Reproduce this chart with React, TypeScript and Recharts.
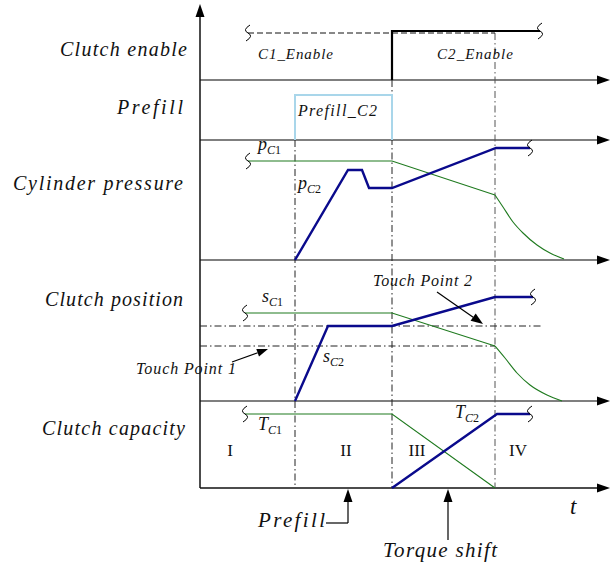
import { ComposedChart, Line, XAxis, YAxis, ReferenceLine, ReferenceDot } from "recharts";

// time axis: t = 0 at the vertical axis, phase boundaries below
const PHASE_T = [0.95, 1.92, 2.95];
const PHASE_NAMES = ["I", "II", "III", "IV"];
const PHASE_LABEL_T = [0.3, 1.46, 2.17, 3.18];

const LANE_NAMES = ["Clutch enable", "Prefill", "Cylinder pressure", "Clutch position", "Clutch capacity"];

// clutch enable
const C1_ENABLE_T = [0.48, 2.95];
const C1_ENABLE_LVL = [47, 47];
const C2_ENABLE_T = [1.92, 1.92, 3.4];
const C2_ENABLE_LVL = [0, 49, 49];

// prefill window of clutch 2
const PREFILL_T = [0.95, 0.95, 1.92, 1.92];
const PREFILL_LVL = [0, 45, 45, 0];

// cylinder pressure
const PC1_T = [0.48, 1.92, 2.95];
const PC1_LVL = [99, 99, 65];
const PC1_DECAY_T = [2.95, 3.03, 3.13, 3.23, 3.37, 3.5, 3.64];
const PC1_DECAY_LVL = [65, 53, 38, 27, 15, 7, 1];
const PC2_T = [0.95, 1.48, 1.62, 1.69, 1.92, 2.96, 3.3];
const PC2_LVL = [0, 90, 90, 72, 72, 112, 112];

// clutch position
const SC1_T = [0.45, 1.92, 2.95];
const SC1_LVL = [88, 88, 55];
const SC1_DECAY_T = [2.95, 3.05, 3.17, 3.3, 3.47, 3.62];
const SC1_DECAY_LVL = [55, 43, 28, 16, 6, 0];
const SC2_T = [0.95, 1.28, 1.92, 2.95, 3.33];
const SC2_LVL = [0, 75, 75, 104, 104];
const TOUCH_LVL = [55, 75];
const TOUCH_END_T = [2.95, 3.43];

// clutch capacity
const TC1_T = [0.45, 1.92, 2.95];
const TC1_LVL = [74, 74, 0];
const TC2_T = [1.92, 2.97, 3.3];
const TC2_LVL = [0, 74, 74];

// layout: lane baselines in px from the top
const BASE = { enable: 80, prefill: 140, pressure: 260, position: 401, capacity: 488 };
const W = 615;
const H = 565;
const T_MIN = -2;
const T_MAX = 4.15;
const T_AXIS_END = 4.1;

const BLUE = "#0a0a8c";
const GREEN = "#1f7a1f";
const LIGHT_BLUE = "#a9d6ea";
const FONT = "'Liberation Serif', 'DejaVu Serif', serif";

const pts = (ts: number[], lv: number[], base: number) => ts.map((t, i) => ({ t, y: base - lv[i] }));

const arrowShape = (len = 13, half = 4.5, stroke = "#000", sw = 1.2) => (p: any) => {
  const { x1, y1, x2, y2 } = p;
  const a = Math.atan2(y2 - y1, x2 - x1);
  const c = Math.cos(a);
  const s = Math.sin(a);
  const bx = x2 - len * c;
  const by = y2 - len * s;
  return (
    <g>
      <line x1={x1} y1={y1} x2={bx} y2={by} stroke={stroke} strokeWidth={sw} />
      <polygon
        points={`${x2},${y2} ${bx - s * half},${by + c * half} ${bx + s * half},${by - c * half}`}
        fill="#000"
      />
    </g>
  );
};

const wigglePath = (cx: number, cy: number) =>
  `M${cx + 2},${cy - 8} Q${cx - 6},${cy - 3} ${cx},${cy} Q${cx + 6},${cy + 3} ${cx - 2},${cy + 8}`;

// break mark ("~") drawn as the dot of one end of a series
const wiggleAt = (which: "first" | "last", n: number) => (p: any) => {
  const idx = which === "first" ? 0 : n - 1;
  if (p.index !== idx) return <g key={`d-${p.index}`} />;
  return <path key={`d-${p.index}`} d={wigglePath(p.cx, p.cy)} fill="none" stroke="#000" strokeWidth={1} />;
};
const noDot = (p: any) => <g key={`d-${p.index}`} />;

const text = (key: string, t: number, y: number, content: any, extra: any = {}) => (
  <ReferenceDot
    key={key}
    x={t}
    y={y}
    r={0}
    ifOverflow="visible"
    shape={(p: any) => (
      <text
        x={p.cx}
        y={p.cy}
        fontFamily={FONT}
        fontStyle="italic"
        fontSize={15}
        fill="#111"
        {...extra}
      >
        {content}
      </text>
    )}
  />
);

const sub = (b: string, c: string, n: string) => (
  <>
    <tspan fontSize={18}>{b}</tspan>
    <tspan fontSize={12} dy={4}>
      {c}
    </tspan>
    <tspan fontSize={12} fontStyle="normal">
      {n}
    </tspan>
  </>
);

export default function App() {
  const c1Enable = pts(C1_ENABLE_T, C1_ENABLE_LVL, BASE.enable);
  const c2Enable = pts(C2_ENABLE_T, C2_ENABLE_LVL, BASE.enable);
  const prefill = pts(PREFILL_T, PREFILL_LVL, BASE.prefill);
  const pc1 = pts(PC1_T, PC1_LVL, BASE.pressure);
  const pc1Decay = pts(PC1_DECAY_T, PC1_DECAY_LVL, BASE.pressure);
  const pc2 = pts(PC2_T, PC2_LVL, BASE.pressure);
  const sc1 = pts(SC1_T, SC1_LVL, BASE.position);
  const sc1Decay = pts(SC1_DECAY_T, SC1_DECAY_LVL, BASE.position);
  const sc2 = pts(SC2_T, SC2_LVL, BASE.position);
  const tc1 = pts(TC1_T, TC1_LVL, BASE.capacity);
  const tc2 = pts(TC2_T, TC2_LVL, BASE.capacity);

  const laneY = [56, 114, 190, 306, 435];
  const laneT = [-1.4, -0.83, -1.87, -1.55, -1.58];
  const laneW = [127, 66, 170, 138, 143];

  const dashTop = [BASE.prefill, BASE.enable, c1Enable[1].y];
  const baselines = [BASE.enable, BASE.prefill, BASE.pressure, BASE.position];

  const lineProps = { dataKey: "y", activeDot: false, isAnimationActive: false } as const;

  return (
    <div>
      <style>{"body{margin:0}"}</style>
      <ComposedChart width={W} height={H} margin={{ top: 0, right: 0, bottom: 0, left: 0 }}>
        <XAxis dataKey="t" type="number" domain={[T_MIN, T_MAX]} hide allowDataOverflow />
        <YAxis type="number" domain={[0, H]} reversed hide allowDataOverflow />

        {/* lane axes */}
        {baselines.map((b) => (
          <ReferenceLine
            key={`base-${b}`}
            segment={[{ x: 0, y: b }, { x: T_AXIS_END, y: b }]}
            shape={arrowShape(13, 4.5, "#555", 1.5)}
          />
        ))}
        <ReferenceLine
          segment={[{ x: 0, y: BASE.capacity }, { x: T_AXIS_END, y: BASE.capacity }]}
          shape={arrowShape(13, 4.5, "#111", 1.5)}
        />
        <ReferenceLine segment={[{ x: 0, y: BASE.capacity }, { x: 0, y: 4 }]} shape={arrowShape(13, 4.5, "#111", 1.5)} />

        {/* phase boundaries */}
        {PHASE_T.map((t, i) => (
          <ReferenceLine
            key={`ph-${i}`}
            segment={[{ x: t, y: dashTop[i] }, { x: t, y: BASE.capacity }]}
            stroke={i === 2 ? "#555" : "#222"}
            strokeWidth={1}
            strokeDasharray="7 3 1.5 3"
          />
        ))}

        {/* touch points */}
        {TOUCH_LVL.map((lv, i) => (
          <ReferenceLine
            key={`tp-${i}`}
            segment={[{ x: 0, y: BASE.position - lv }, { x: TOUCH_END_T[i], y: BASE.position - lv }]}
            stroke="#222"
            strokeWidth={1}
            strokeDasharray="7 3 1.5 3"
          />
        ))}

        <Line {...lineProps} data={c1Enable} stroke="#111" strokeWidth={1} strokeDasharray="6 3" dot={wiggleAt("first", c1Enable.length)} />
        <Line {...lineProps} data={c2Enable} stroke="#000" strokeWidth={2.2} dot={wiggleAt("last", c2Enable.length)} />
        <Line {...lineProps} data={prefill} stroke={LIGHT_BLUE} strokeWidth={2} dot={noDot} />
        <Line {...lineProps} data={pc1} stroke={GREEN} strokeWidth={1.1} dot={wiggleAt("first", pc1.length)} />
        <Line {...lineProps} data={pc1Decay} type="monotone" stroke={GREEN} strokeWidth={1.1} dot={noDot} />
        <Line {...lineProps} data={pc2} stroke={BLUE} strokeWidth={2.4} dot={wiggleAt("last", pc2.length)} />
        <Line {...lineProps} data={sc1} stroke={GREEN} strokeWidth={1.1} dot={wiggleAt("first", sc1.length)} />
        <Line {...lineProps} data={sc1Decay} type="monotone" stroke={GREEN} strokeWidth={1.1} dot={noDot} />
        <Line {...lineProps} data={sc2} stroke={BLUE} strokeWidth={2.4} dot={wiggleAt("last", sc2.length)} />
        <Line {...lineProps} data={tc1} stroke={GREEN} strokeWidth={1.1} dot={wiggleAt("first", tc1.length)} />
        <Line {...lineProps} data={tc2} stroke={BLUE} strokeWidth={2.4} dot={wiggleAt("last", tc2.length)} />

        {/* annotation arrows */}
        <ReferenceLine segment={[{ x: 1.26, y: 523 }, { x: 1.48, y: 523 }]} stroke="#000" strokeWidth={1.2} />
        <ReferenceLine segment={[{ x: 1.48, y: 523 }, { x: 1.48, y: 489 }]} shape={arrowShape(13, 4.5)} />
        <ReferenceLine segment={[{ x: 2.48, y: 540 }, { x: 2.48, y: 489 }]} shape={arrowShape(13, 4.5)} />
        <ReferenceLine segment={[{ x: 2.37, y: 292 }, { x: 2.83, y: 324 }]} shape={arrowShape(12, 4.5)} />
        <ReferenceLine segment={[{ x: 0.32, y: 362 }, { x: 0.68, y: 349 }]} shape={arrowShape(11, 4)} />

        {/* texts */}
        {LANE_NAMES.map((n, i) =>
          text(`lane-${i}`, laneT[i], laneY[i], n, { fontSize: 20, textLength: laneW[i], lengthAdjust: "spacing" })
        )}
        {text("c1en", 0.58, 59, "C1_Enable", { textLength: 75, lengthAdjust: "spacing" })}
        {text("c2en", 2.37, 59, "C2_Enable", { textLength: 76, lengthAdjust: "spacing" })}
        {text("pf2", 0.98, 116, "Prefill_C2", { fontSize: 16, textLength: 79, lengthAdjust: "spacing" })}
        {text("pc1", 0.58, 150, sub("p", "C", "1"))}
        {text("pc2", 0.98, 189, sub("p", "C", "2"))}
        {text("sc1", 0.62, 302, sub("s", "C", "1"))}
        {text("sc2", 1.23, 362, sub("s", "C", "2"))}
        {text("tc1", 0.58, 430, sub("T", "C", "1"))}
        {text("tc2", 2.55, 418, sub("T", "C", "2"))}
        {text("tp2", 1.73, 286, "Touch Point 2", { fontSize: 16, textLength: 99, lengthAdjust: "spacing" })}
        {text("tp1", -0.64, 374, "Touch Point 1", { fontSize: 16, textLength: 100, lengthAdjust: "spacing" })}
        {PHASE_NAMES.map((n, i) =>
          text(`ph-${n}`, PHASE_LABEL_T[i], 456, n, { fontStyle: "normal", fontSize: 17, textAnchor: "middle" })
        )}
        {text("t", 3.7, 514, "t", { fontSize: 23 })}
        {text("pfb", 0.58, 527, "Prefill", { fontSize: 21, textLength: 67, lengthAdjust: "spacing" })}
        {text("ts", 1.83, 557, "Torque shift", { fontSize: 21, textLength: 114, lengthAdjust: "spacing" })}
      </ComposedChart>
    </div>
  );
}
